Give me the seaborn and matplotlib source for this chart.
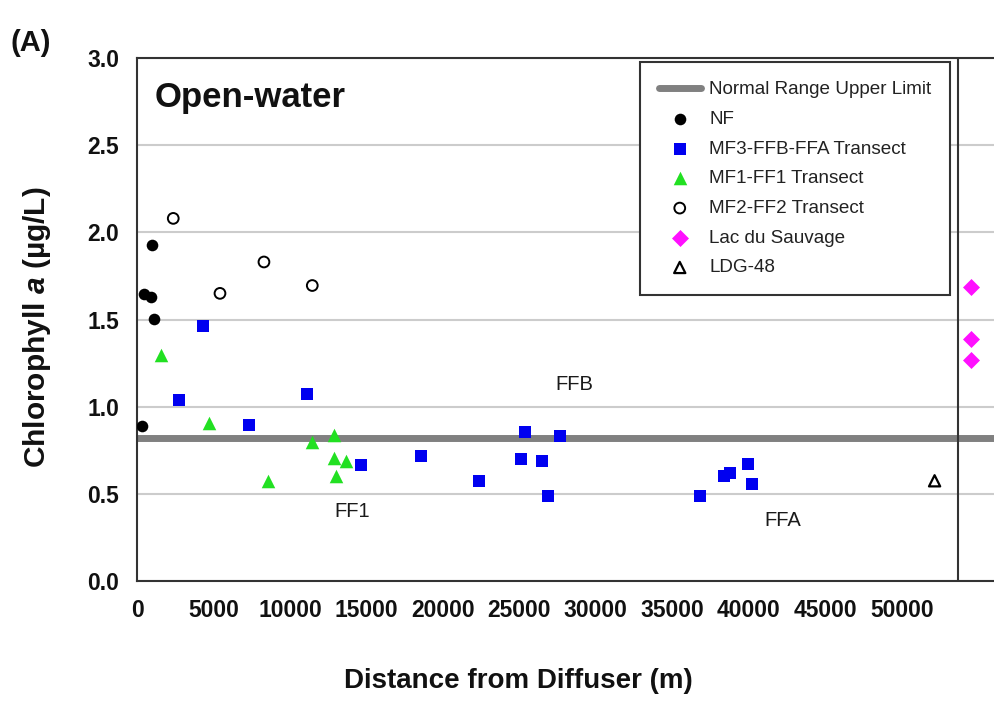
import matplotlib
matplotlib.use("Agg")
import matplotlib.pyplot as plt
import seaborn as sns

# Chlorophyll a (µg/L) against distance from the diffuser (m), by station group
nf_dist = [350, 460, 915, 960, 1130]
nf_chl = [0.89, 1.645, 1.63, 1.925, 1.505]

mf3_dist = [2765, 4290, 7340, 11090, 14640, 18560, 22350, 25080, 25360,
            26450, 26840, 27650, 36840, 38390, 38760, 39960, 40240]
mf3_chl = [1.04, 1.46, 0.895, 1.07, 0.665, 0.72, 0.575, 0.70, 0.855,
           0.69, 0.49, 0.83, 0.49, 0.605, 0.62, 0.67, 0.555]

mf1_dist = [1550, 4705, 8580, 11420, 12875, 12875, 13660, 12985]
mf1_chl = [1.295, 0.905, 0.575, 0.80, 0.835, 0.705, 0.69, 0.605]

mf2_dist = [2370, 5425, 8300, 11460]
mf2_chl = [2.08, 1.65, 1.83, 1.695]

lds_dist = [54500, 54500, 54500]
lds_chl = [1.685, 1.39, 1.27]

ldg_dist = [52150]
ldg_chl = [0.575]

normal_upper_limit = 0.82
separator_x = 53700

area_labels = ["FF1", "FFB", "FFA"]
area_label_x = [14050, 28600, 42200]
area_label_y = [0.40, 1.125, 0.35]

x_ticks = list(range(0, 50001, 5000))
y_ticks = [0.0, 0.5, 1.0, 1.5, 2.0, 2.5, 3.0]

sns.set_style("white")
plt.rcParams["font.family"] = ["Liberation Sans", "DejaVu Sans"]
plt.rcParams["mathtext.fontset"] = "custom"
plt.rcParams["mathtext.it"] = "Liberation Sans:italic:bold"
plt.rcParams["mathtext.rm"] = "Liberation Sans:bold"

fig = plt.figure(figsize=(9.95, 7.03), dpi=100)
ax = fig.add_axes([0.1377, 0.1735, 0.8623, 0.744])

ax.axhline(normal_upper_limit, color="#808080", lw=5, zorder=2,
           label="Normal Range Upper Limit")
ax.axvline(separator_x, color="#333333", lw=1.5, zorder=2)

sns.scatterplot(x=nf_dist, y=nf_chl, ax=ax, marker="o", s=70, color="black",
                edgecolor="black", linewidth=0, label="NF", zorder=3)
sns.scatterplot(x=mf3_dist, y=mf3_chl, ax=ax, marker="s", s=80, color="#0000f0",
                edgecolor="#0000f0", linewidth=0, label="MF3-FFB-FFA Transect", zorder=3)
sns.scatterplot(x=mf1_dist, y=mf1_chl, ax=ax, marker="^", s=95, color="#22e022",
                edgecolor="#22e022", linewidth=0, label="MF1-FF1 Transect", zorder=3)
sns.scatterplot(x=mf2_dist, y=mf2_chl, ax=ax, marker="o", s=60, facecolor="none",
                edgecolor="black", linewidth=1.4, label="MF2-FF2 Transect", zorder=3)
sns.scatterplot(x=lds_dist, y=lds_chl, ax=ax, marker="D", s=75, color="#ff10ff",
                edgecolor="#ff10ff", linewidth=0, label="Lac du Sauvage", zorder=3)
sns.scatterplot(x=ldg_dist, y=ldg_chl, ax=ax, marker="^", s=65, facecolor="none",
                edgecolor="black", linewidth=1.6, label="LDG-48", zorder=3)

for name, lx, ly in zip(area_labels, area_label_x, area_label_y):
    ax.text(lx, ly, name, ha="center", va="center", fontsize=14.5, color="#1a1a1a")

ax.set_xlim(0, 56100)
ax.set_ylim(0, 3.0)
ax.set_xticks(x_ticks)
ax.set_xticklabels([str(t) for t in x_ticks])
ax.set_yticks(y_ticks)
ax.set_yticklabels([f"{t:.1f}" for t in y_ticks])
ax.yaxis.grid(True, color="#cccccc", lw=1.5, zorder=0)
ax.set_axisbelow(True)

for side in ["left", "bottom", "top"]:
    ax.spines[side].set_color("#333333")
    ax.spines[side].set_linewidth(1.5)
ax.spines["right"].set_visible(False)

ax.tick_params(axis="both", direction="out", length=7, width=1.2, color="#333333",
               labelsize=16.5, pad=6)
for lab in ax.get_xticklabels() + ax.get_yticklabels():
    lab.set_fontweight("bold")
    lab.set_color("#111111")

ax.set_xlabel("Distance from Diffuser (m)", fontsize=20, fontweight="bold", color="#111111")
ax.xaxis.set_label_coords(0.4446, -0.191)
ax.xaxis.label.set_verticalalignment("center")
ax.set_ylabel("Chlorophyll $a$ (µg/L)", fontsize=21.5, fontweight="bold", color="#111111")
ax.yaxis.set_label_coords(-0.1166, 0.4847)
ax.yaxis.label.set_verticalalignment("center")

ax.text(0.021, 0.906, "Open-water", transform=ax.transAxes, fontsize=25,
        fontweight="bold", color="#111111")
fig.text(0.011, 0.927, "(A)", fontsize=21, fontweight="bold", color="#111111")

handles, labels = ax.get_legend_handles_labels()
leg = ax.legend(handles, labels, loc="upper right", bbox_to_anchor=(0.9476, 0.992),
                borderaxespad=0, frameon=True, fancybox=False, edgecolor="#333333",
                framealpha=1, fontsize=13.6, handlelength=2.2, handletextpad=0.45,
                labelspacing=0.66, borderpad=1.0, scatterpoints=1)
leg.get_frame().set_linewidth(1.5)
for t in leg.get_texts():
    t.set_color("#222222")

fig.savefig("out.png", dpi=100, facecolor="white")
